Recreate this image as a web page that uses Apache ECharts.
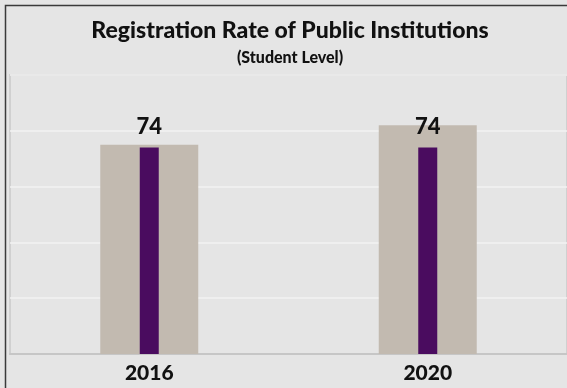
<!DOCTYPE html>
<html>
<head>
<meta charset="utf-8">
<script src="https://cdn.jsdelivr.net/npm/echarts@6/dist/echarts.min.js"></script>
<style>
  html, body { margin: 0; padding: 0; background: #e5e5e5; }
  #chart { width: 567px; height: 388px; }
</style>
</head>
<body>
<div id="chart"></div>
<script>
// Years shown on the category axis
const years = ['2016', '2020'];
// Wide background bars
const backdropValues = [75, 82];
// Registration rate (narrow bars, labelled)
const rateValues = [74, 74];
// Value axis settings
const yMin = 0;
const yMax = 100;
const yStep = 20;

const FONT = 'Lato, "Open Sans", sans-serif';
const WEIGHT = 900;

const chart = echarts.init(document.getElementById('chart'), null, { renderer: 'canvas' });

const categoryAxis = (visible) => ({
  type: 'category',
  data: years,
  show: visible,
  axisLine: { show: visible, lineStyle: { color: '#c6c6c6', width: 2 } },
  axisTick: { show: false },
  axisLabel: {
    show: visible,
    margin: 9,
    fontFamily: FONT,
    fontWeight: WEIGHT,
    fontSize: 21,
    color: '#111111'
  }
});

chart.setOption({
  backgroundColor: '#e5e5e5',
  animation: false,
  graphic: [
    {
      type: 'rect',
      silent: true,
      shape: { x: 5.5, y: 5.5, width: 700, height: 500 },
      style: { fill: 'none', stroke: '#3a3a3a', lineWidth: 1.5 },
      z: 10
    },
    {
      type: 'text',
      silent: true,
      style: {
        x: 290, y: 31,
        text: 'Registration Rate of Public Institutions',
        font: WEIGHT + ' 23px ' + FONT,
        fill: '#111111',
        textAlign: 'center',
        textVerticalAlign: 'middle'
      }
    },
    {
      type: 'text',
      silent: true,
      style: {
        x: 290, y: 57.5,
        text: '(Student Level)',
        font: WEIGHT + ' 16px ' + FONT,
        fill: '#111111',
        textAlign: 'center',
        textVerticalAlign: 'middle'
      }
    }
  ],
  grid: {
    left: 10,
    top: 75,
    width: 560,
    height: 279,
    show: true,
    backgroundColor: 'transparent',
    borderColor: '#d0d0d0',
    borderWidth: 2
  },
  xAxis: [categoryAxis(true), categoryAxis(false)],
  yAxis: {
    type: 'value',
    min: yMin,
    max: yMax,
    interval: yStep,
    axisLine: { show: false },
    axisTick: { show: false },
    axisLabel: { show: false },
    splitLine: { show: true, lineStyle: { color: '#f2f2f2', width: 1.5 } }
  },
  series: [
    {
      type: 'bar',
      xAxisIndex: 0,
      data: backdropValues,
      barWidth: 98,
      itemStyle: { color: '#c2bab0' },
      z: 2
    },
    {
      type: 'bar',
      xAxisIndex: 1,
      data: rateValues,
      barWidth: 19,
      itemStyle: { color: '#4a0c5f' },
      label: {
        show: true,
        position: 'top',
        distance: 10,
        fontFamily: FONT,
        fontWeight: WEIGHT,
        fontSize: 22,
        color: '#111111'
      },
      z: 3
    }
  ]
});
</script>
</body>
</html>
